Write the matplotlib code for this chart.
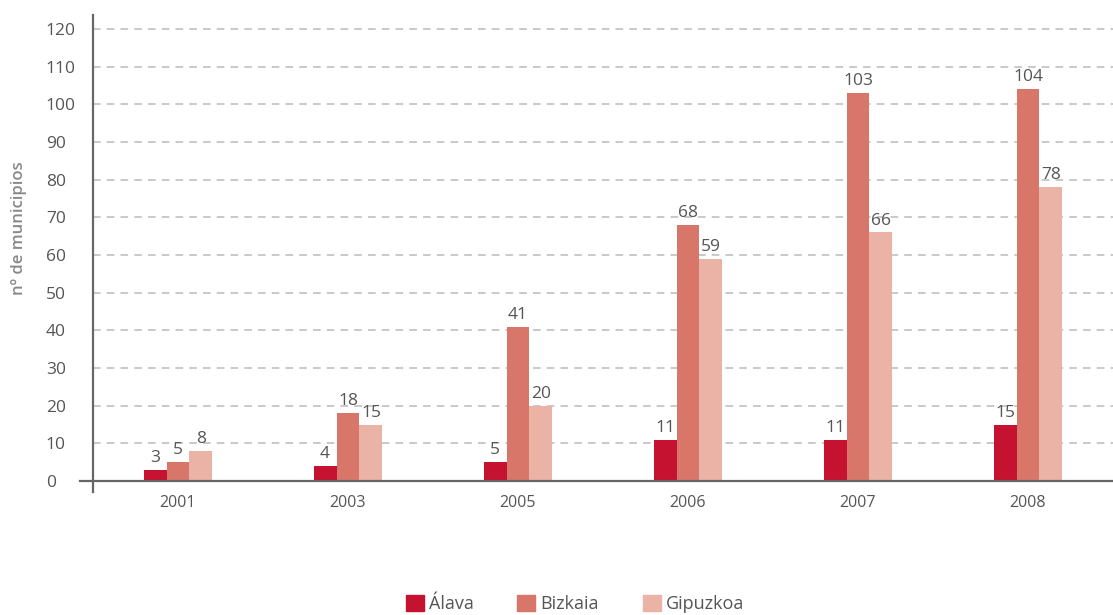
import numpy as np
import matplotlib.pyplot as plt
from matplotlib.patches import Patch

plt.rcParams['font.family'] = ['Open Sans', 'DejaVu Sans']

years = ['2001', '2003', '2005', '2006', '2007', '2008']
alava = [3, 4, 5, 11, 11, 15]
bizkaia = [5, 18, 41, 68, 103, 104]
gipuzkoa = [8, 15, 20, 59, 66, 78]
series_names = ['Álava', 'Bizkaia', 'Gipuzkoa']
colors = ['#C41230', '#D9766A', '#EBB2A6']

fig = plt.figure(figsize=(11.13, 6.15), dpi=100)
ax = fig.add_axes([93 / 1113, 1 - 492 / 615, 1 - 93 / 1113, 477 / 615])

x = np.arange(len(years))
w = 0.135
grey = '#555555'

for i, (vals, c) in enumerate(zip([alava, bizkaia, gipuzkoa], colors)):
    pos = x + (i - 1) * w
    ax.bar(pos, vals, width=w, color=c, zorder=3)
    for px, v in zip(pos, vals):
        ax.text(px, v + 1.0, str(v), ha='center', va='bottom',
                fontsize=12.5, color=grey, zorder=4)

ax.set_xlim(-0.5, 5.5)
ax.set_ylim(-2.9, 123.7)
ax.set_yticks(range(0, 121, 10))

# dashed gridlines (not on zero)
for yv in range(10, 121, 10):
    ax.axhline(yv, color='#bbbbbb', lw=1.1, ls=(0, (5, 4)), zorder=1)

# zero line extending left past the spine
ax.plot([-13 / 1020, 1], [0, 0], transform=ax.get_yaxis_transform(),
        color='#666666', lw=1.6, clip_on=False, zorder=5)

for s in ['top', 'right', 'bottom']:
    ax.spines[s].set_visible(False)
ax.spines['left'].set_color('#666666')
ax.spines['left'].set_linewidth(1.6)

ax.set_xticks(x)
ax.set_xticklabels(years)
ax.tick_params(axis='x', length=0, pad=2, labelsize=11.5, labelcolor=grey)
ax.tick_params(axis='y', length=0, pad=34, labelsize=12.5, labelcolor=grey)
for lab in ax.get_yticklabels():
    lab.set_horizontalalignment('left')

ax.set_ylabel('nº de municipios', fontsize=12, color='#888888',
              fontweight='semibold')
ax.yaxis.set_label_coords(-66 / 1020, 0.553)

handles = [Patch(color=c, label=n) for c, n in zip(colors, series_names)]
fig.legend(handles=handles, loc='center', bbox_to_anchor=(575 / 1113, 1 - 604 / 615),
           ncol=3, frameon=False, fontsize=13, handlelength=1.0, handleheight=1.0,
           handletextpad=0.3, columnspacing=2.4, labelcolor=grey)

fig.savefig('out.png', dpi=100)
